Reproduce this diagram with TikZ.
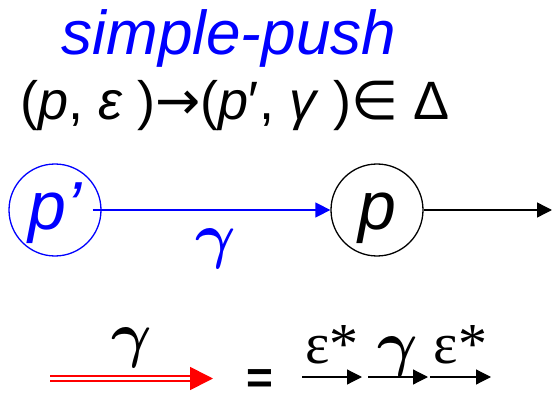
\RequirePackage{fix-cm}
\documentclass[tikz,border=0pt]{standalone}
\usepackage{fontspec}
\setmainfont{Liberation Sans}
\newfontfamily\symfont{DejaVu Sans}
\newfontfamily\serifgr{Liberation Serif}
\usetikzlibrary{arrows.meta, positioning}
\tikzset{
  statecircle/.style={
    circle, draw, line width=1.3pt, minimum size=92pt, inner sep=0pt,
    text height=39pt, text depth=0pt,
    font=\fontsize{68}{68}\selectfont\itshape
  },
  edgearrow/.style={-{Triangle[length=15pt, width=15pt]}, line width=1.4pt},
  steparrow/.style={-{Triangle[length=15pt, width=15pt]}, line width=1.2pt},
  runarrow/.style={red, double=white, line width=1.7pt, double distance=3pt,
    -{Triangle[length=23pt, width=23pt]}},
  steplabel/.style={inner sep=0pt, anchor=base, text=black, font=\fontsize{58}{58}\selectfont\serifgr},
  gammalabel/.style={steplabel, font=\fontsize{62}{62}\selectfont\boldmath},
}

\begin{document}
\begin{tikzpicture}[x=1pt, y=-1pt]
  \useasboundingbox (0,0) rectangle (552,393);

  % Heading and rule
  \node[blue, anchor=base, inner sep=0pt, font=\fontsize{62}{62}\selectfont\itshape] (title) at (229,55) {simple-push};
  \node[anchor=base, inner sep=0pt, font=\fontsize{54}{54}\selectfont] (rule) at (235,120)
    {(\textit{p}, \textit{ε} ){\symfont →}(\textit{p}′, \textit{γ} ){\symfont ∈} Δ};

  % States
  \node[statecircle, blue] (pp) at (55,210) {p’};
  \node[statecircle] (p) at (377,210) {p};
  \coordinate (exit) at (552,210);

  % Edges
  \draw[edgearrow, blue, shorten <=-9pt] (pp) -- node[gammalabel, text=blue, yshift=-46pt] (g) {$\gamma$} (p);
  \draw[edgearrow] (p) -- (exit);

  % Run = eps* gamma eps*
  \coordinate (r0) at (50,378.5);
  \coordinate (r1) at (213,378.5);
  \draw[runarrow] (r0) -- node[gammalabel, yshift=23pt] (rg) {$\gamma$} (r1);
  \node[anchor=base, inner sep=0pt, font=\fontsize{46}{46}\selectfont\bfseries] (eq) at (259.5,393) {=};
  \coordinate (s0) at (302,377);
  \coordinate (s1) at (362,377);
  \coordinate (s2) at (368,377);
  \coordinate (s3) at (428,377);
  \coordinate (s4) at (430,377);
  \coordinate (s5) at (491,377);
  \draw[steparrow] (s0) -- node[steplabel, yshift=14pt] (e1) {ε*} (s1);
  \draw[steparrow] (s2) -- node[gammalabel, yshift=13pt] (g2) {$\gamma$} (s3);
  \draw[steparrow] (s4) -- node[steplabel, yshift=14pt] (e2) {ε*} (s5);
\end{tikzpicture}
\end{document}
